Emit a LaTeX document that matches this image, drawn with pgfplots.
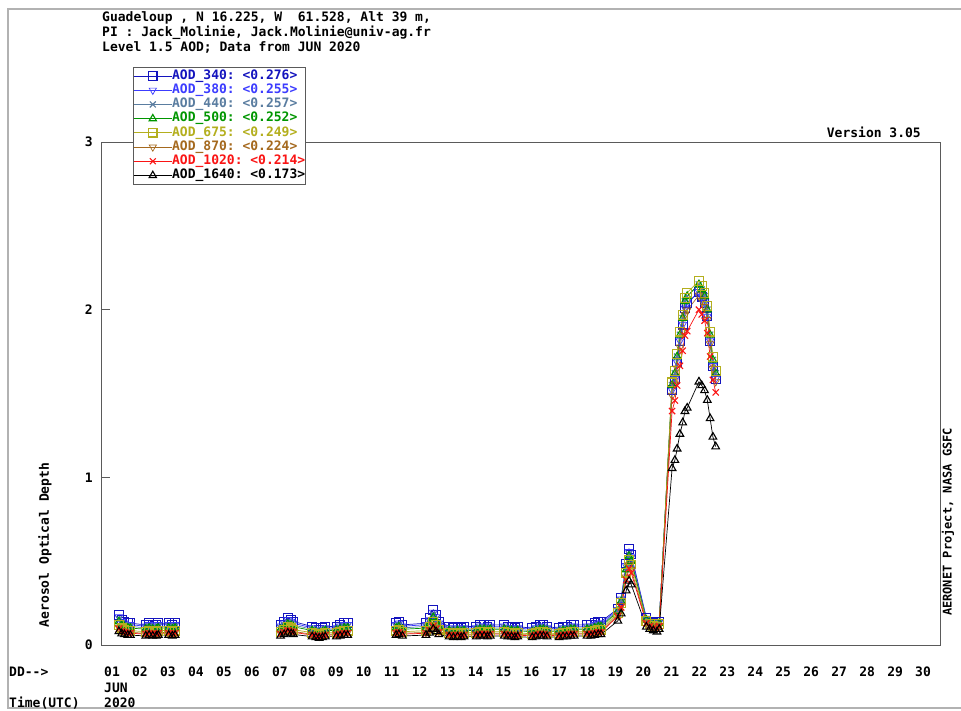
\documentclass[border=0pt]{standalone}
\usepackage{pgfplots}
\pgfplotsset{compat=1.18}
\usepackage{pgfplotstable}
\usepackage{fontspec}
\setmonofont{DejaVu Sans Mono}
\newcommand{\af}{\ttfamily\bfseries\fontsize{13}{15}\selectfont}
\newcommand{\afs}{\ttfamily\bfseries\fontsize{12}{14}\selectfont}
\definecolor{c340}{RGB}{20,20,190}
\definecolor{c380}{RGB}{60,60,255}
\definecolor{c440}{RGB}{90,125,160}
\definecolor{c500}{RGB}{0,150,0}
\definecolor{c675}{RGB}{180,175,30}
\definecolor{c870}{RGB}{165,105,30}
\definecolor{c1020}{RGB}{250,20,20}
\definecolor{c1640}{RGB}{0,0,0}
\definecolor{axc}{RGB}{90,90,90}

\pgfplotstableread{
x a340 a380 a440 a500 a675 a870 a1020 a1640
1.64 0.180 0.167 0.153 0.140 0.119 0.104 0.097 0.081
1.74 0.150 0.140 0.128 0.117 0.099 0.087 0.081 0.068
1.84 0.140 0.130 0.119 0.109 0.092 0.081 0.076 0.063
1.96 0.130 0.121 0.111 0.101 0.086 0.075 0.070 0.059
2.05 0.130 0.121 0.111 0.101 0.086 0.075 0.070 0.059
2.60 0.120 0.112 0.102 0.094 0.079 0.070 0.065 0.054
2.72 0.130 0.121 0.111 0.101 0.086 0.075 0.070 0.059
2.85 0.120 0.112 0.102 0.094 0.079 0.070 0.065 0.054
2.98 0.120 0.112 0.102 0.094 0.079 0.070 0.065 0.054
3.05 0.130 0.121 0.111 0.101 0.086 0.075 0.070 0.059
3.42 0.130 0.121 0.111 0.101 0.086 0.075 0.070 0.059
3.55 0.120 0.112 0.102 0.094 0.079 0.070 0.065 0.054
3.65 0.130 0.121 0.111 0.101 0.086 0.075 0.070 0.059
5.00 nan nan nan nan nan nan nan nan
7.42 0.120 0.112 0.102 0.094 0.079 0.070 0.065 0.054
7.55 0.140 0.130 0.119 0.109 0.092 0.081 0.076 0.063
7.68 0.160 0.149 0.136 0.125 0.106 0.093 0.086 0.072
7.80 0.150 0.140 0.128 0.117 0.099 0.087 0.081 0.068
7.88 0.140 0.130 0.119 0.109 0.092 0.081 0.076 0.063
8.55 0.110 0.102 0.094 0.086 0.073 0.064 0.059 0.050
8.68 0.100 0.093 0.085 0.078 0.066 0.058 0.054 0.045
8.80 0.090 0.084 0.077 0.070 0.059 0.052 0.049 0.041
8.92 0.100 0.093 0.085 0.078 0.066 0.058 0.054 0.045
9.02 0.110 0.102 0.094 0.086 0.073 0.064 0.059 0.050
9.42 0.110 0.102 0.094 0.086 0.073 0.064 0.059 0.050
9.55 0.120 0.112 0.102 0.094 0.079 0.070 0.065 0.054
9.70 0.130 0.121 0.111 0.101 0.086 0.075 0.070 0.059
9.82 0.130 0.121 0.111 0.101 0.086 0.075 0.070 0.059
10.50 nan nan nan nan nan nan nan nan
11.55 0.130 0.121 0.111 0.101 0.086 0.075 0.070 0.059
11.65 0.140 0.130 0.119 0.109 0.092 0.081 0.076 0.063
11.78 0.120 0.112 0.102 0.094 0.079 0.070 0.065 0.054
12.62 0.130 0.121 0.111 0.101 0.086 0.075 0.070 0.059
12.75 0.160 0.149 0.136 0.125 0.106 0.093 0.086 0.072
12.88 0.210 0.195 0.179 0.164 0.139 0.122 0.113 0.095
12.98 0.180 0.167 0.153 0.140 0.119 0.104 0.097 0.081
13.08 0.140 0.130 0.119 0.109 0.092 0.081 0.076 0.063
13.45 0.110 0.102 0.094 0.086 0.073 0.064 0.059 0.050
13.60 0.100 0.093 0.085 0.078 0.066 0.058 0.054 0.045
13.75 0.110 0.102 0.094 0.086 0.073 0.064 0.059 0.050
13.88 0.100 0.093 0.085 0.078 0.066 0.058 0.054 0.045
13.98 0.110 0.102 0.094 0.086 0.073 0.064 0.059 0.050
14.42 0.110 0.102 0.094 0.086 0.073 0.064 0.059 0.050
14.55 0.120 0.112 0.102 0.094 0.079 0.070 0.065 0.054
14.70 0.120 0.112 0.102 0.094 0.079 0.070 0.065 0.054
14.82 0.110 0.102 0.094 0.086 0.073 0.064 0.059 0.050
14.92 0.120 0.112 0.102 0.094 0.079 0.070 0.065 0.054
15.42 0.120 0.112 0.102 0.094 0.079 0.070 0.065 0.054
15.55 0.110 0.102 0.094 0.086 0.073 0.064 0.059 0.050
15.68 0.110 0.102 0.094 0.086 0.073 0.064 0.059 0.050
15.80 0.100 0.093 0.085 0.078 0.066 0.058 0.054 0.045
15.90 0.110 0.102 0.094 0.086 0.073 0.064 0.059 0.050
16.42 0.100 0.093 0.085 0.078 0.066 0.058 0.054 0.045
16.55 0.110 0.102 0.094 0.086 0.073 0.064 0.059 0.050
16.70 0.120 0.112 0.102 0.094 0.079 0.070 0.065 0.054
16.82 0.120 0.112 0.102 0.094 0.079 0.070 0.065 0.054
16.95 0.110 0.102 0.094 0.086 0.073 0.064 0.059 0.050
17.38 0.100 0.093 0.085 0.078 0.066 0.058 0.054 0.045
17.52 0.110 0.102 0.094 0.086 0.073 0.064 0.059 0.050
17.65 0.110 0.102 0.094 0.086 0.073 0.064 0.059 0.050
17.80 0.120 0.112 0.102 0.094 0.079 0.070 0.065 0.054
17.92 0.120 0.112 0.102 0.094 0.079 0.070 0.065 0.054
18.38 0.120 0.112 0.102 0.094 0.079 0.070 0.065 0.054
18.52 0.120 0.112 0.102 0.094 0.079 0.070 0.065 0.054
18.65 0.130 0.121 0.111 0.101 0.086 0.075 0.070 0.059
18.78 0.140 0.130 0.119 0.109 0.092 0.081 0.076 0.063
18.88 0.140 0.130 0.119 0.109 0.092 0.081 0.076 0.063
19.48 0.216 0.210 0.204 0.200 0.192 0.180 0.172 0.144
19.60 0.281 0.273 0.265 0.260 0.250 0.234 0.224 0.187
19.78 0.486 0.473 0.459 0.450 0.432 0.405 0.387 0.324
19.88 0.572 0.557 0.541 0.530 0.509 0.477 0.456 0.382
19.96 0.540 0.525 0.510 0.500 0.480 0.450 0.430 0.360
20.50 0.162 0.158 0.153 0.150 0.144 0.135 0.129 0.108
20.62 0.140 0.137 0.133 0.130 0.125 0.117 0.112 0.094
20.75 0.130 0.126 0.122 0.120 0.115 0.108 0.103 0.086
20.88 0.119 0.116 0.112 0.110 0.106 0.099 0.095 0.079
20.96 0.140 0.137 0.133 0.130 0.125 0.117 0.112 0.094
21.42 1.519 1.519 1.550 1.550 1.566 1.488 1.395 1.054
21.52 1.588 1.588 1.620 1.620 1.636 1.555 1.458 1.102
21.60 1.686 1.686 1.720 1.720 1.737 1.651 1.548 1.170
21.70 1.813 1.813 1.850 1.850 1.869 1.776 1.665 1.258
21.80 1.911 1.911 1.950 1.950 1.970 1.872 1.755 1.326
21.88 2.009 2.009 2.050 2.050 2.071 1.968 1.845 1.394
21.96 2.038 2.038 2.080 2.080 2.101 1.997 1.872 1.414
22.38 2.107 2.107 2.150 2.150 2.172 2.086 2.000 1.570
22.48 2.078 2.078 2.120 2.120 2.141 2.056 1.972 1.548
22.58 2.038 2.038 2.080 2.080 2.101 2.018 1.934 1.518
22.68 1.960 1.960 2.000 2.000 2.020 1.940 1.860 1.460
22.78 1.813 1.813 1.850 1.850 1.869 1.795 1.721 1.351
22.88 1.666 1.666 1.700 1.700 1.717 1.649 1.581 1.241
22.98 1.588 1.588 1.620 1.620 1.636 1.571 1.507 1.183
}\datatable

\begin{document}
\begin{tikzpicture}
\useasboundingbox (0pt,0pt) rectangle (961pt,-711pt);
\draw[black!30, line width=1.3pt] (961pt,-9pt) -- (8pt,-9pt) -- (8pt,-708pt) -- (961pt,-708pt);
\begin{axis}[
  at={(101pt,-645pt)}, anchor=south west,
  scale only axis, width=839pt, height=503pt,
  xmin=1, xmax=31, ymin=0, ymax=3,
  axis line style={axc, line width=0.9pt},
  xtick={1,...,30},
  xticklabels={01,02,03,04,05,06,07,08,09,10,11,12,13,14,15,16,17,18,19,20,21,22,23,24,25,26,27,28,29,30},
  xtick style={draw=none},
  xticklabel style={font=\af, anchor=base west, inner sep=0pt, xshift=3pt, yshift=-31pt},
  ytick={0,1,2,3},
  ytick pos=left,
  tick align=inside,
  major tick length=9pt,
  ytick style={axc, line width=0.8pt},
  yticklabel style={font=\af, anchor=east, inner sep=0pt, xshift=-8pt},
  /pgf/number format/assume math mode=true,
  unbounded coords=jump,
  every axis plot/.append style={line width=0.7pt, mark size=4.4pt, mark options={solid, line width=1.1pt}},
  legend cell align=left,
  legend style={at={(axis description cs:0,1)}, anchor=north west, xshift=32pt, yshift=75pt,
    draw=axc, line width=0.9pt, fill=white, font=\af, inner xsep=0pt, inner ysep=1.5pt,
    row sep=0pt,
    nodes={inner xsep=0pt, inner ysep=0.5pt, text height=9.9pt, text depth=3.3pt},
    /tikz/every even column/.append style={column sep=0pt}},
  legend image code/.code={\draw[mark repeat=2,mark phase=2,#1,line width=0.7pt, mark size=4.2pt] plot coordinates {(0pt,0pt)(19pt,0pt)(38pt,0pt)};},
]
\addplot[c340, mark=square] table[x=x,y=a340]{\datatable};
\addlegendentry{\textcolor{c340}{AOD\_340: <0.276>}}
\addplot[c380, mark=triangle, mark options={rotate=180}] table[x=x,y=a380]{\datatable};
\addlegendentry{\textcolor{c380}{AOD\_380: <0.255>}}
\addplot[c440, mark=x] table[x=x,y=a440]{\datatable};
\addlegendentry{\textcolor{c440}{AOD\_440: <0.257>}}
\addplot[c500, mark=triangle] table[x=x,y=a500]{\datatable};
\addlegendentry{\textcolor{c500}{AOD\_500: <0.252>}}
\addplot[c675, mark=square] table[x=x,y=a675]{\datatable};
\addlegendentry{\textcolor{c675}{AOD\_675: <0.249>}}
\addplot[c870, mark=triangle, mark options={rotate=180}] table[x=x,y=a870]{\datatable};
\addlegendentry{\textcolor{c870}{AOD\_870: <0.224>}}
\addplot[c1020, mark=x] table[x=x,y=a1020]{\datatable};
\addlegendentry{\textcolor{c1020}{AOD\_1020: <0.214>}}
\addplot[c1640, mark=triangle] table[x=x,y=a1640]{\datatable};
\addlegendentry{\textcolor{c1640}{AOD\_1640: <0.173>}}
\end{axis}
\node[anchor=base west, inner sep=0pt, font=\af] at (102pt,-22pt) {Guadeloup , N 16.225, W~~61.528, Alt 39 m,};
\node[anchor=base west, inner sep=0pt, font=\af] at (102pt,-37pt) {PI : Jack\_Molinie, Jack.Molinie@univ-ag.fr};
\node[anchor=base west, inner sep=0pt, font=\af] at (102pt,-52pt) {Level 1.5 AOD; Data from JUN 2020};
\node[anchor=base east, inner sep=0pt, font=\af] at (921pt,-138pt) {Version 3.05};
\node[anchor=base west, inner sep=0pt, font=\af] at (9pt,-676pt) {DD-{}-{}>};
\node[anchor=base west, inner sep=0pt, font=\af] at (9pt,-707pt) {Time(UTC)};
\node[anchor=base west, inner sep=0pt, font=\af] at (104pt,-692pt) {JUN};
\node[anchor=base west, inner sep=0pt, font=\af] at (104pt,-707pt) {2020};
\node[rotate=90, inner sep=0pt, font=\af] at (45pt,-545pt) {Aerosol Optical Depth};
\node[rotate=90, inner sep=0pt, font=\afs] at (948pt,-522pt) {AERONET Project, NASA GSFC};
\end{tikzpicture}
\end{document}
